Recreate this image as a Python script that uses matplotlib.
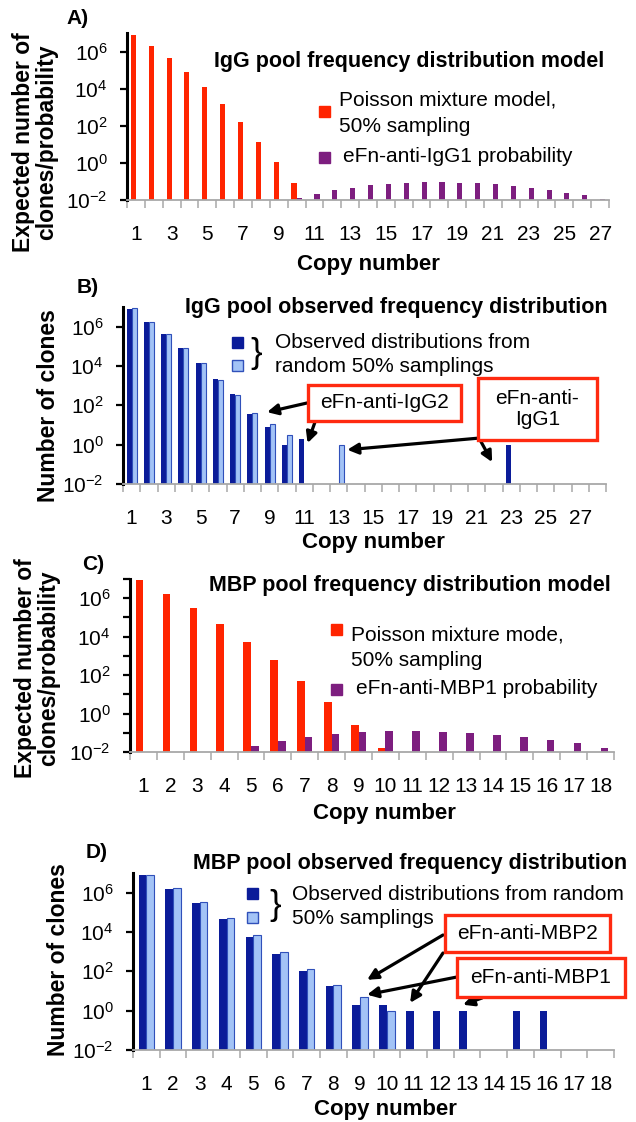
import numpy as np
import matplotlib.pyplot as plt
from matplotlib.patches import Rectangle
from matplotlib.ticker import FixedLocator, NullFormatter, NullLocator

plt.rcParams['font.family'] = ['Liberation Sans', 'DejaVu Sans']
plt.rcParams['mathtext.default'] = 'regular'

# ---- data ----
# A) IgG pool model
igg_model_copies = [1, 2, 3, 4, 5, 6, 7, 8, 9, 10]
igg_model = [7.5e6, 1.9e6, 4.4e5, 8.4e4, 1.2e4, 1.45e3, 155, 14, 1.17, 0.087]
igg1_prob_copies = [10, 11, 12, 13, 14, 15, 16, 17, 18, 19, 20, 21, 22, 23, 24, 25, 26, 27]
igg1_prob = [0.0135, 0.022, 0.033, 0.047, 0.062, 0.073, 0.083, 0.089, 0.089,
             0.087, 0.079, 0.070, 0.057, 0.044, 0.035, 0.025, 0.018, 0.0117]

# B) IgG pool observed, two random 50% samplings
igg_obs1_copies = [1, 2, 3, 4, 5, 6, 7, 8, 9, 10, 11, 23]
igg_obs1 = [7.9e6, 1.8e6, 4.4e5, 8.7e4, 1.4e4, 2.3e3, 370, 37, 8, 1, 2, 1]
igg_obs2_copies = [1, 2, 3, 4, 5, 6, 7, 8, 9, 10, 13]
igg_obs2 = [8.6e6, 1.8e6, 4.4e5, 8.5e4, 1.35e4, 2.0e3, 340, 40, 11, 3, 1]

# C) MBP pool model
mbp_model_copies = [1, 2, 3, 4, 5, 6, 7, 8, 9, 10]
mbp_model = [8.5e6, 1.65e6, 3.0e5, 4.6e4, 5.5e3, 600, 48, 3.9, 0.26, 0.016]
mbp1_prob_copies = [5, 6, 7, 8, 9, 10, 11, 12, 13, 14, 15, 16, 17, 18]
mbp1_prob = [0.020, 0.038, 0.062, 0.087, 0.107, 0.12, 0.12, 0.11, 0.098,
             0.078, 0.059, 0.041, 0.028, 0.017]

# D) MBP pool observed
mbp_obs1_copies = [1, 2, 3, 4, 5, 6, 7, 8, 9, 10, 11, 12, 13, 15, 16]
mbp_obs1 = [8e6, 1.6e6, 3.0e5, 4.5e4, 5.6e3, 740, 102, 18, 2, 2, 1, 1, 1, 1, 1]
mbp_obs2_copies = [1, 2, 3, 4, 5, 6, 7, 8, 9, 10]
mbp_obs2 = [8e6, 1.8e6, 3.5e5, 5.4e4, 7.4e3, 910, 124, 21, 5, 1]

RED = '#ff2400'
PURPLE = '#7d1e7f'
DARK = '#0b1c99'
LIGHT = '#a3c3f6'
LIGHT_EDGE = '#3050ba'
BOXRED = '#ff2a10'
Y0, Y1 = 1e-2, 1e7
BW = 0.286

TITLE = 15.5
LEG = 15
YLAB = 16.5
XLAB = 16

W, H = 636, 1122
fig = plt.figure(figsize=(W / 100, H / 100), dpi=100)


def fp(x, y):
    # pixel (from top-left) -> figure fraction
    return x / W, 1 - y / H


def panel(left, top, right, bottom):
    return fig.add_axes([left / W, 1 - bottom / H, (right - left) / W, (bottom - top) / H])


def style(ax, ncat, step, every_decade=False):
    ax.set_yscale('log')
    ax.set_ylim(Y0, Y1)
    ax.set_xlim(0.5, ncat + 0.5)
    for s in ('top', 'right'):
        ax.spines[s].set_visible(False)
    ax.spines['left'].set_color('black')
    ax.spines['left'].set_linewidth(2.2)
    ax.spines['bottom'].set_color('#a8a8a8')
    ax.spines['bottom'].set_linewidth(1.3)
    ax.set_xticks(np.arange(0.5, ncat + 1.0, 1.0))
    ax.set_xticklabels([])
    ax.tick_params(axis='x', which='major', length=6, width=1.1, color='#a8a8a8')
    cats = np.arange(1, ncat + 1, step)
    ax.set_xticks(cats, [str(c) for c in cats], minor=True)
    ax.tick_params(axis='x', which='minor', length=0, pad=18, labelsize=15)
    ax.set_yticks([1e-2, 1e0, 1e2, 1e4, 1e6])
    if every_decade:
        ax.yaxis.set_minor_locator(FixedLocator([1e-1, 1e1, 1e3, 1e5, 1e7]))
    else:
        ax.yaxis.set_minor_locator(NullLocator())
    ax.yaxis.set_minor_formatter(NullFormatter())
    ax.tick_params(axis='y', which='both', length=5, width=1.6, color='black',
                   labelsize=15, pad=9)
    ax.set_facecolor('none')


def bars(ax, copies, vals, offset, **kw):
    x = np.array(copies, dtype=float) + offset
    v = np.array(vals, dtype=float)
    ax.bar(x, v - Y0, bottom=Y0, width=BW, align='edge', **kw)


def legend_square(x, y, color, edge=None):
    fig.add_artist(Rectangle(fp(x, y + 11), 11 / W, 11 / H, transform=fig.transFigure,
                             facecolor=color, edgecolor=edge or color, lw=1.0))


def text(x, y, s, **kw):
    fig.text(*fp(x, y), s, **kw)


def red_box(x0, y0, x1, y1, label):
    fig.add_artist(Rectangle(fp(x0, y1), (x1 - x0) / W, (y1 - y0) / H,
                             transform=fig.transFigure, facecolor='white',
                             edgecolor=BOXRED, lw=2.4, zorder=5))
    text((x0 + x1) / 2, (y0 + y1) / 2, label, ha='center', va='center',
         fontsize=LEG, linespacing=1.1, zorder=6)


def arrow(ax, tail, head):
    ax.annotate('', xy=head, xycoords='data', xytext=fp(*tail),
                textcoords='figure fraction',
                arrowprops=dict(arrowstyle='-|>', lw=2.3, color='black',
                                mutation_scale=16, shrinkA=0, shrinkB=0),
                annotation_clip=False, zorder=7)


# ---- A) ----
axA = panel(127, 33, 609, 200)
style(axA, 27, 2)
bars(axA, igg_model_copies, igg_model, -BW, color=RED)
bars(axA, igg1_prob_copies, igg1_prob, 0, color=PURPLE)
text(78, 18, 'A)', fontsize=15, fontweight='bold', ha='center', va='center')
text(409, 62, 'IgG pool frequency distribution model', fontsize=TITLE,
     fontweight='bold', ha='center', va='center')
legend_square(319, 106, RED)
text(339, 100, 'Poisson mixture model,', fontsize=LEG, va='center')
text(339, 127, '50% sampling', fontsize=LEG, va='center')
legend_square(319, 152, PURPLE)
text(343, 156, 'eFn-anti-IgG1 probability', fontsize=LEG, va='center')
text(35, 142, 'Expected number of\nclones/probability', rotation=90, fontsize=YLAB,
     fontweight='bold', ha='center', va='center', linespacing=1.05)
text(368, 264, 'Copy number', fontsize=XLAB, fontweight='bold', ha='center', va='center')

# ---- B) ----
axB = panel(123, 307, 606, 484)
style(axB, 28, 2)
bars(axB, igg_obs1_copies, igg_obs1, -BW, color=DARK)
bars(axB, igg_obs2_copies, igg_obs2, 0, facecolor=LIGHT, edgecolor=LIGHT_EDGE, lw=0.8)
text(88, 287, 'B)', fontsize=15, fontweight='bold', ha='center', va='center')
text(396, 308, 'IgG pool observed frequency distribution', fontsize=TITLE,
     fontweight='bold', ha='center', va='center')
legend_square(232, 337, DARK)
legend_square(232, 360, LIGHT, LIGHT_EDGE)
text(256, 354, '}', fontsize=25, ha='center', va='center')
text(275, 342, 'Observed distributions from', fontsize=LEG, va='center')
text(275, 367, 'random 50% samplings', fontsize=LEG, va='center')
text(49, 406, 'Number of clones', rotation=90, fontsize=YLAB, fontweight='bold',
     ha='center', va='center')
text(373, 543, 'Copy number', fontsize=XLAB, fontweight='bold', ha='center', va='center')
red_box(308, 385, 461, 421, 'eFn-anti-IgG2')
red_box(478, 378, 597, 440, 'eFn-anti-\nIgG1')
arrow(axB, (307, 403), (8.85, 45))
arrow(axB, (315, 422), (11.2, 1.2))
arrow(axB, (480, 438), (13.5, 0.55))
arrow(axB, (479, 438), (21.9, 0.13))

# ---- C) ----
axC = panel(130, 579, 614, 752)
style(axC, 18, 1, every_decade=True)
bars(axC, mbp_model_copies, mbp_model, -BW, color=RED)
bars(axC, mbp1_prob_copies, mbp1_prob, 0, color=PURPLE)
text(93, 565, 'C)', fontsize=15, fontweight='bold', ha='center', va='center')
text(410, 585, 'MBP pool frequency distribution model', fontsize=TITLE,
     fontweight='bold', ha='center', va='center')
legend_square(331, 624, RED)
text(351, 635, 'Poisson mixture mode,', fontsize=LEG, va='center')
text(351, 660, '50% sampling', fontsize=LEG, va='center')
legend_square(331, 684, PURPLE)
text(356, 688, 'eFn-anti-MBP1 probability', fontsize=LEG, va='center')
text(37, 668, 'Expected number of\nclones/probability', rotation=90, fontsize=YLAB,
     fontweight='bold', ha='center', va='center', linespacing=1.05)
text(384, 814, 'Copy number', fontsize=XLAB, fontweight='bold', ha='center', va='center')

# ---- D) ----
axD = panel(133, 873, 614, 1050)
style(axD, 18, 1)
bars(axD, mbp_obs1_copies, mbp_obs1, -BW, color=DARK)
bars(axD, mbp_obs2_copies, mbp_obs2, 0, facecolor=LIGHT, edgecolor=LIGHT_EDGE, lw=0.8)
text(97, 853, 'D)', fontsize=15, fontweight='bold', ha='center', va='center')
text(410, 863, 'MBP pool observed frequency distribution', fontsize=TITLE,
     fontweight='bold', ha='center', va='center')
legend_square(247, 888, DARK)
legend_square(247, 912, LIGHT, LIGHT_EDGE)
text(275, 906, '}', fontsize=25, ha='center', va='center')
text(292, 894, 'Observed distributions from random', fontsize=LEG, va='center')
text(292, 918, '50% samplings', fontsize=LEG, va='center')
text(59, 960, 'Number of clones', rotation=90, fontsize=YLAB, fontweight='bold',
     ha='center', va='center')
text(385, 1110, 'Copy number', fontsize=XLAB, fontweight='bold', ha='center', va='center')
red_box(445, 915, 610, 952, 'eFn-anti-MBP2')
red_box(457, 958, 625, 997, 'eFn-anti-MBP1')
arrow(axD, (443, 935), (9.26, 37))
arrow(axD, (443, 953), (10.87, 2.5))
arrow(axD, (457, 977), (9.26, 6.5))
arrow(axD, (482, 998), (12.85, 2.0))

fig.savefig('out.png', dpi=100)
